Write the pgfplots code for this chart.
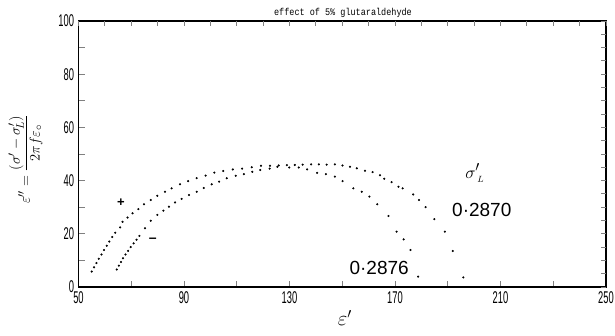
\documentclass[border=0pt]{standalone}
\usepackage{pgfplots}
\pgfplotsset{compat=1.18}
\usepackage{graphicx}
\usepackage{fontspec}
\setmainfont{Liberation Sans}
\setmonofont{Liberation Mono}
\usetikzlibrary{calc}
\begin{document}
\begin{tikzpicture}
\pgfplotsset{myax/.style={
  scale only axis, width=527.5pt, height=266pt,
  xmin=50, xmax=250, ymin=0, ymax=100,
  tick align=inside, axis line style={line width=1.1pt},
  major tick style={line width=0.8pt}, major tick length=6pt,
  minor tick style={line width=0.8pt}, minor tick length=6pt}}
\begin{axis}[myax,
  xtick={50,90,...,250}, minor xtick={70,110,150,190,230},
  ytick={0,20,...,100}, minor ytick={10,30,50,70,90},
  xtick pos=bottom, ytick pos=left,
  xticklabel={\scalebox{0.55}[1]{\fontsize{17}{17}\selectfont\pgfmathprintnumber[assume math mode=true]{\tick}}},
  yticklabel={\scalebox{0.55}[1]{\fontsize{17}{17}\selectfont\pgfmathprintnumber[assume math mode=true]{\tick}}},
  xticklabel style={yshift=-1pt}, yticklabel style={xshift=-1pt},
  clip=false]
\addplot[only marks, mark=*, mark size=0.85pt, black] coordinates {
(55.0,5.8)(55.9,7.4)(56.8,9.0)(57.7,10.6)(58.7,12.2)(59.7,13.9)(60.7,15.5)(61.7,17.1)(62.8,18.8)(63.9,20.4)
(65.8,22.4)(66.7,24.5)(68.6,26.1)(70.5,27.7)(72.7,29.3)(74.8,31.1)(77.4,32.7)(79.9,34.3)(82.8,35.8)(85.3,37.1)
(88.5,38.6)(91.6,39.8)(94.8,40.9)(98.2,41.9)(101.5,43.0)(104.9,43.6)(108.5,44.2)(112.0,44.5)(115.7,45.0)(119.2,45.6)
(122.6,45.6)(125.9,45.7)(129.0,45.8)(132.0,45.9)(135.0,46.0)(138.2,46.1)(141.1,46.1)(144.1,46.0)(147.2,46.1)(150.1,45.7)
(152.9,45.2)(155.5,44.6)(158.6,43.7)(161.5,43.2)(164.3,42.0)(165.9,40.7)(168.7,39.4)(171.3,37.7)(172.9,37.1)(176.9,34.8)
(179.1,32.7)(181.6,30.0)(184.9,25.5)(188.9,20.8)(191.9,13.5)(195.9,3.6)};
\addplot[only marks, mark=*, mark size=0.85pt, black] coordinates {
(64.5,6.6)(65.3,8.0)(66.1,9.4)(66.9,10.8)(67.8,12.2)(68.8,13.6)(69.8,15.0)(70.9,16.4)(72.0,17.8)(73.1,19.2)
(75.2,22.1)(77.4,24.9)(79.9,27.1)(82.2,28.7)(84.3,30.2)(86.6,31.8)(89.1,33.1)(91.9,34.6)(94.8,35.8)(97.5,37.2)
(100.5,38.6)(103.3,39.6)(106.2,40.9)(109.6,41.8)(112.7,42.4)(115.9,43.3)(118.9,44.0)(122.5,44.5)(125.4,45.2)(129.9,44.9)
(133.5,44.9)(136.7,44.2)(140.5,42.9)(143.8,42.4)(147.2,41.5)(150.1,39.8)(154.2,37.1)(157.4,35.8)(160.3,34.0)(163.3,31.1)
(167.5,26.7)(170.6,20.8)(173.3,17.9)(175.9,13.9)(178.8,3.9)};
\node[font=\fontsize{13}{13}\selectfont\bfseries] at (axis cs:66.1,31.6) {+};
\node[font=\fontsize{14}{14}\selectfont\bfseries] at (axis cs:78.2,17.7) {\textendash};
\node[font=\fontsize{19}{19}\selectfont, inner sep=0pt] at (axis cs:200.2,42.8) {$\sigma^{\prime}_{\,\scriptscriptstyle L}$};
\node[font=\fontsize{19}{19}\selectfont, inner sep=0pt] at (axis cs:202.9,28.9) {0·2870};
\node[font=\fontsize{19}{19}\selectfont, inner sep=0pt] at (axis cs:164.0,7.0) {0·2876};
\node[anchor=south, font=\ttfamily\fontsize{10}{10}\selectfont, inner sep=0pt] at ($(rel axis cs:0,1)+(264.5pt,3pt)$) {\scalebox{0.85}[1]{effect of 5\% glutaraldehyde}};
\node[font=\fontsize{22}{22}\selectfont, inner sep=0pt, yshift=-31pt] at (rel axis cs:0.505,0) {$\varepsilon'$};
\node[rotate=90, font=\fontsize{15.5}{15.5}\selectfont, inner sep=0pt] at ($(rel axis cs:0,0)+(-53pt,128pt)$) {$\varepsilon''=\displaystyle\frac{(\sigma'-\sigma'_{\!L})}{2\pi f\varepsilon_{\circ}}$};
\coordinate (ll) at (rel axis cs:0,0);
\coordinate (ur) at (rel axis cs:1,1);
\end{axis}
\begin{axis}[myax, axis line style={draw=none},
  xtick={50,60,...,250}, ytick={0,5,...,100},
  xtick pos=top, ytick pos=right,
  major tick length=5pt,
  xticklabels={}, yticklabels={}]
\end{axis}
\pgfresetboundingbox
\path[use as bounding box] ($(ll)+(-78.5pt,-49pt)$) rectangle ($(ur)+(9pt,21pt)$);
\end{tikzpicture}
\end{document}
